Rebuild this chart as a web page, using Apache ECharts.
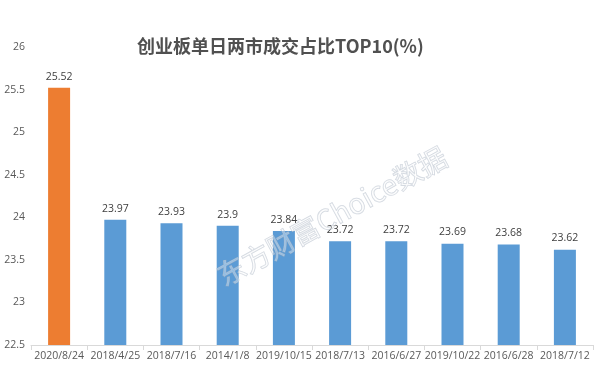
<!DOCTYPE html>
<html><head><meta charset="utf-8">
<script src="https://cdn.jsdelivr.net/npm/echarts@6/dist/echarts.min.js"></script>
<style>html,body{margin:0;padding:0;background:#fff}#c{width:600px;height:366px}</style>
</head><body><div id="c"></div>
<script>
const categories = ['2020/8/24','2018/4/25','2018/7/16','2014/1/8','2019/10/15','2018/7/13','2016/6/27','2019/10/22','2016/6/28','2018/7/12'];
const values = [25.52, 23.97, 23.93, 23.9, 23.84, 23.72, 23.72, 23.69, 23.68, 23.62];
const yTicks = [22.5, 23, 23.5, 24, 24.5, 25, 25.5, 26];
const titleText = '创业板单日两市成交占比TOP10(%)';
const watermark = '东方财富Choice数据';

const chart = echarts.init(document.getElementById('c'), null, {renderer:'canvas'});
const font = "'Open Sans','Noto Sans CJK SC',sans-serif";
chart.setOption({
  backgroundColor:'#fff',
  animation:false,
  title:{text:titleText, left:132, top:32,
    textStyle:{fontSize:18, fontWeight:'bold', color:'#505050', fontFamily:"'Noto Sans CJK SC',sans-serif"}},
  grid:{left:31, right:7, top:47, bottom:21, containLabel:false},
  xAxis:{type:'category', data:categories,
    axisLine:{lineStyle:{color:'#d9d9d9'}},
    axisTick:{show:true, alignWithLabel:false, length:5, lineStyle:{color:'#d9d9d9'}},
    axisLabel:{color:'#595959', fontSize:10.5, fontFamily:font, margin:6, interval:0}},
  yAxis:{type:'value', min:yTicks[0], max:yTicks[yTicks.length-1], interval:0.5,
    splitLine:{show:false}, axisLine:{show:false}, axisTick:{show:false},
    axisLabel:{color:'#595959', fontSize:10.5, fontFamily:font, margin:6}},
  series:[{type:'bar', data:values.map((v,i)=>({value:v, itemStyle:{color:i===0?'#ED7D31':'#5B9BD5'}})),
    barWidth:22,
    label:{show:true, position:'top', distance:6, color:'#404040', fontSize:10.5, fontFamily:font}}],
  graphic:[{type:'text', x:226, y:290, rotation:0.5, z:100,
    style:{text:watermark, fontSize:28, fill:'rgba(255,255,255,0.35)', stroke:'rgba(170,180,195,0.55)', lineWidth:1,
      textVerticalAlign:'bottom', fontFamily:"'Noto Sans CJK SC',sans-serif"}}]
});
</script></body></html>
